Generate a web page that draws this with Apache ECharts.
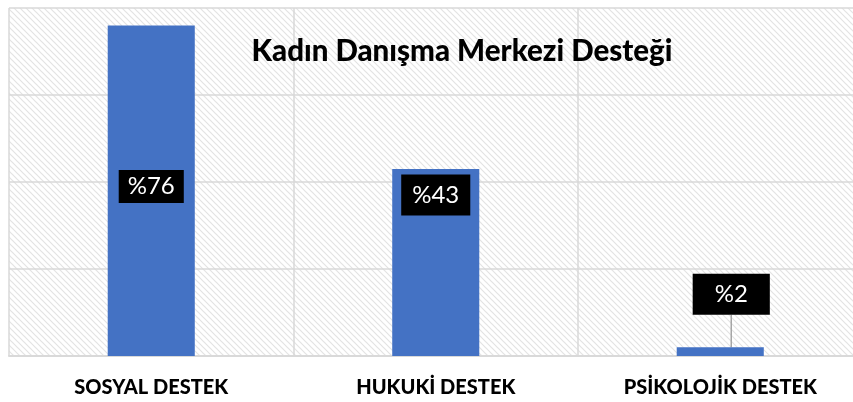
<!DOCTYPE html>
<html>
<head>
<meta charset="utf-8">
<script src="https://cdn.jsdelivr.net/npm/echarts@6/dist/echarts.min.js"></script>
<style>
  html, body { margin: 0; padding: 0; background: #fff; }
  #chart { width: 853px; height: 402px; }
</style>
</head>
<body>
<div id="chart"></div>
<script>
const title = 'Kadın Danışma Merkezi Desteği';
const categories = ['SOSYAL DESTEK', 'HUKUKİ DESTEK', 'PSİKOLOJİK DESTEK'];
const values = [76, 43, 2];
const valueLabels = ['%76', '%43', '%2'];

// diagonal hatch tile for the plot background
const tile = document.createElement('canvas');
tile.width = 6;
tile.height = 6;
const tctx = tile.getContext('2d');
tctx.fillStyle = '#ffffff';
tctx.fillRect(0, 0, 6, 6);
tctx.strokeStyle = '#e3e3e3';
tctx.lineWidth = 1.2;
tctx.beginPath();
tctx.moveTo(-1, -1); tctx.lineTo(7, 7);
tctx.moveTo(-7, -1); tctx.lineTo(1, 7);
tctx.moveTo(5, -1); tctx.lineTo(13, 7);
tctx.stroke();

// label placement per bar (box padding / offset from bar top)
const labelTweaks = [
  { pos: ['50%', 161], pad: [5, 9, 4, 9] },
  { pos: ['50%', 26], pad: [9, 11, 8, 11] },
  { pos: ['50%', 0], pad: [9, 22, 8, 22] }
];

const chart = echarts.init(document.getElementById('chart'));

const option = {
  backgroundColor: '#ffffff',
  animation: false,
  title: {
    text: title,
    left: 457,
    top: 31,
    textAlign: 'center',
    textStyle: {
      fontFamily: 'Lato',
      fontWeight: 900,
      fontSize: 29.5,
      color: '#000'
    }
  },
  grid: {
    left: 9,
    top: 8,
    width: 853.5,
    height: 348,
    outerBoundsMode: 'none',
    containLabel: false,
    show: true,
    borderWidth: 0,
    backgroundColor: { image: tile, repeat: 'repeat' }
  },
  xAxis: {
    type: 'category',
    data: categories,
    axisTick: { show: false },
    axisLine: { show: true, lineStyle: { color: '#d9d9d9', width: 2 } },
    splitLine: { show: true, lineStyle: { color: '#d9d9d9', width: 1.5 } },
    axisLabel: {
      margin: 22,
      fontFamily: 'Lato',
      fontWeight: 900,
      fontSize: 20,
      color: '#000'
    }
  },
  yAxis: {
    type: 'value',
    min: 0,
    max: 80,
    interval: 20,
    axisLabel: { show: false },
    axisLine: { show: false },
    axisTick: { show: false },
    splitLine: { show: true, lineStyle: { color: '#d9d9d9', width: 1.5 } }
  },
  series: [{
    type: 'bar',
    barWidth: '30.6%',
    itemStyle: { color: '#4472c4' },
    data: values.map((v, i) => ({
      value: v,
      label: {
        position: labelTweaks[i].pos,
        padding: labelTweaks[i].pad
      }
    })),
    label: {
      show: true,
      formatter: (p) => valueLabels[p.dataIndex],
      align: 'center',
      verticalAlign: 'middle',
      backgroundColor: '#000',
      color: '#fff',
      fontFamily: 'Lato',
      fontWeight: 'normal',
      fontSize: 24
    },
    labelLine: {
      show: true,
      lineStyle: { color: '#a6a6a6', width: 1.5 }
    },
    labelLayout: (p) => p.dataIndex === 2 ? { dx: 11, dy: -53 } : {}
  }]
};

chart.setOption(option);
</script>
</body>
</html>
